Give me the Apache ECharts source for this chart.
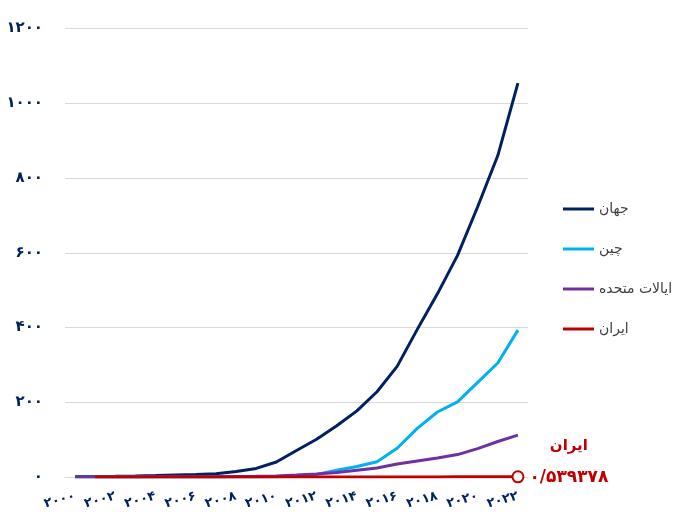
<!DOCTYPE html>
<html>
<head>
<meta charset="utf-8">
<script src="https://cdn.jsdelivr.net/npm/echarts@6/dist/echarts.min.js"></script>
<style>
  html, body { margin: 0; padding: 0; background: #fff; }
  #chart { width: 680px; height: 516px; }
</style>
</head>
<body>
<div id="chart"></div>
<script>
// Cumulative installed solar PV capacity (GW)
const years = ['2000','2001','2002','2003','2004','2005','2006','2007','2008','2009','2010','2011',
               '2012','2013','2014','2015','2016','2017','2018','2019','2020','2021','2022'];
const world = [1.2, 1.6, 2.1, 2.8, 3.9, 5.3, 6.7, 9.0, 15, 23, 40, 71,
               101, 137, 177, 228, 296, 395, 490, 593, 723, 860, 1054];
const china = [0, 0, 0, 0.1, 0.1, 0.1, 0.1, 0.1, 0.1, 0.3, 1, 3,
               7, 18, 28, 41, 77, 130, 174, 201, 253, 305, 393];
const usa = [0.1, 0.1, 0.2, 0.3, 0.4, 0.5, 0.6, 0.8, 1.2, 1.7, 2.9, 5.2,
             8.1, 12, 18, 24, 35, 43, 51, 60, 76, 95, 112];
const iran = [null, 0.001, 0.001, 0.001, 0.001, 0.001, 0.001, 0.001, 0.001, 0.002, 0.002, 0.002,
              0.003, 0.004, 0.008, 0.015, 0.04, 0.14, 0.29, 0.37, 0.42, 0.45, 0.539378];
const seriesNames = ['جهان', 'چین', 'ایالات متحده', 'ایران'];
const seriesColors = ['#002060', '#00B0F0', '#7030A0', '#C00000'];
const yTicks = [0, 200, 400, 600, 800, 1000, 1200];

const faDigits = '۰۱۲۳۴۵۶۷۸۹';
function toFa(v) {
  return String(v).replace(/[0-9]/g, d => faDigits[+d]).replace('.', '/');
}

const iranData = iran.map((v, i) => i === iran.length - 1 ? {
  value: v,
  symbol: 'emptyCircle',
  symbolSize: 11,
  itemStyle: { color: '#C00000', borderColor: '#C00000', borderWidth: 2.5 },
  label: {
    show: true,
    position: 'right',
    distance: 5,
    offset: [0, -15],
    formatter: '{a|' + seriesNames[3] + '}\n{b|' + toFa(v) + '}',
    rich: {
      a: { color: '#C00000', fontSize: 15, fontWeight: 'bold', lineHeight: 32, align: 'center', fontFamily: 'DejaVu Sans' },
      b: { color: '#C00000', fontSize: 17, fontWeight: 'bold', lineHeight: 32, align: 'center', fontFamily: 'DejaVu Sans' }
    }
  }
} : v);

const dataSets = [world, china, usa, iranData];

const chart = echarts.init(document.getElementById('chart'), null, { renderer: 'canvas' });
chart.setOption({
  animation: false,
  backgroundColor: '#ffffff',
  textStyle: { fontFamily: 'DejaVu Sans' },
  grid: { left: 65, right: 152, top: 28.5, bottom: 39 },
  legend: {
    orient: 'vertical',
    left: 563,
    top: 202,
    padding: 0,
    icon: 'rect',
    itemWidth: 31,
    itemHeight: 3,
    itemGap: 26,
    textStyle: { color: '#404040', fontSize: 14, lineHeight: 14, fontFamily: 'DejaVu Sans' },
    data: seriesNames
  },
  xAxis: {
    type: 'category',
    data: years,
    boundaryGap: true,
    axisLine: { show: true, lineStyle: { color: '#d9d9d9', width: 1 } },
    axisTick: { show: false },
    axisLabel: {
      interval: 1,
      rotate: 15,
      margin: 19,
      color: '#002060',
      fontWeight: 'bold',
      fontSize: 13,
      formatter: v => toFa(v)
    }
  },
  yAxis: {
    type: 'value',
    min: yTicks[0],
    max: yTicks[yTicks.length - 1],
    interval: 200,
    axisLine: { show: false },
    axisTick: { show: false },
    splitLine: { lineStyle: { color: '#d9d9d9', width: 1 } },
    axisLabel: {
      margin: 22,
      color: '#002060',
      fontWeight: 'bold',
      fontSize: 15,
      formatter: v => toFa(v)
    }
  },
  series: seriesNames.map((name, i) => ({
    name: name,
    type: 'line',
    data: dataSets[i],
    color: seriesColors[i],
    symbol: 'none',
    showSymbol: i === 3,
    smooth: false,
    lineStyle: { width: 3, color: seriesColors[i] },
    emphasis: { disabled: true }
  }))
});
</script>
</body>
</html>
